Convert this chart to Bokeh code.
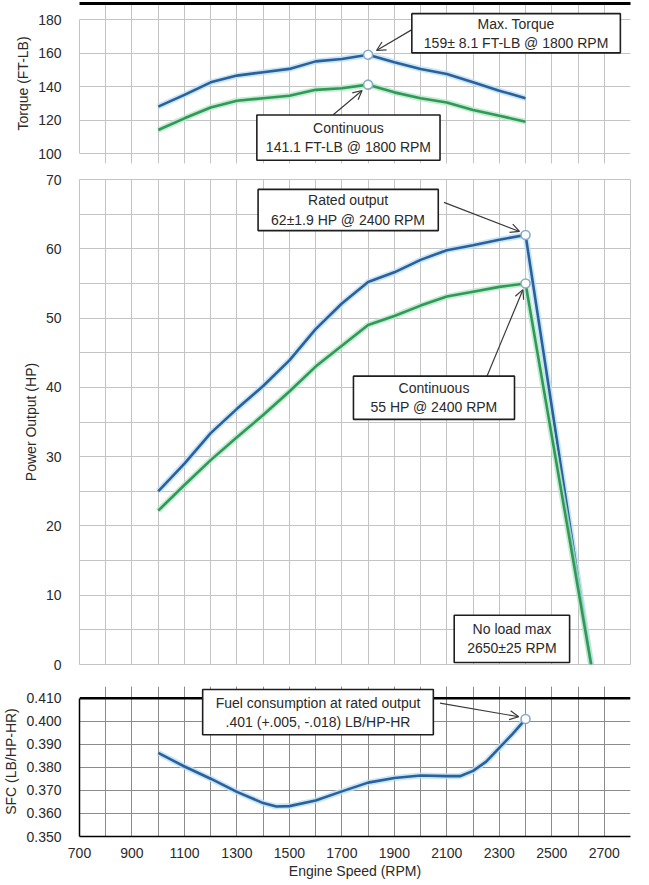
from bokeh.plotting import figure
from bokeh.layouts import column
from bokeh.models import (Range1d, FixedTicker, Label, Arrow, OpenHead, Span,
                          PrintfTickFormatter, LinearAxis)
from bokeh.embed import file_html
from bokeh.resources import INLINE

# ---------------- data ----------------
rpm = [1000, 1100, 1200, 1300, 1400, 1500, 1600, 1700, 1800, 1900, 2000, 2100, 2200, 2300, 2400]
torque_max = [128, 135, 142.5, 146.5, 148.5, 150.5, 155, 156.4, 159, 154.5, 150.5, 147.5, 142.5, 137.5, 133]
torque_cont = [114, 121, 127.5, 131.5, 133, 134.5, 138, 139, 141.1, 136.5, 133, 130.5, 126, 122.5, 119]

power_rpm = [1000, 1100, 1200, 1300, 1400, 1500, 1600, 1700, 1800, 1900, 2000, 2100, 2200, 2300, 2400, 2650]
power_max = [25.0, 29.0, 33.4, 36.9, 40.2, 43.9, 48.4, 52.1, 55.2, 56.6, 58.4, 59.8, 60.5, 61.3, 62.0, 0]
power_cont = [22.2, 25.9, 29.5, 32.8, 36.0, 39.4, 43.0, 46.0, 49.0, 50.3, 51.8, 53.1, 53.8, 54.5, 55.0, 0]

sfc_rpm = [1000, 1100, 1200, 1300, 1400, 1450, 1500, 1600, 1700, 1800, 1900, 2000, 2100, 2150, 2200, 2250, 2300, 2350, 2400]
sfc = [0.3863, 0.3804, 0.3751, 0.3694, 0.3645, 0.3630, 0.3632, 0.3656, 0.3696, 0.3734, 0.3754,
       0.3765, 0.3762, 0.3762, 0.3785, 0.3825, 0.3885, 0.3945, 0.401]

x_major = [700, 900, 1100, 1300, 1500, 1700, 1900, 2100, 2300, 2500, 2700]
x_minor = [700, 800, 900, 1000, 1100, 1200, 1300, 1400, 1500, 1600, 1700, 1800, 1900, 2000,
           2100, 2200, 2300, 2400, 2500, 2600, 2700, 2800]
torque_ticks = [100, 120, 140, 160, 180]
power_ticks = [0, 10, 20, 30, 40, 50, 60, 70]
power_minor = [0, 5, 10, 15, 20, 25, 30, 35, 40, 45, 50, 55, 60, 65, 70]
sfc_ticks = [0.35, 0.36, 0.37, 0.38, 0.39, 0.40, 0.41]

# ---------------- style ----------------
FONT = "Liberation Sans"
BLUE = "#2b5f9e"
BLUE_HALO = "#b9e0f4"
GREEN = "#2f9a58"
GREEN_HALO = "#b7e6c8"
GRID = "#c4c4c4"
GRID_DARK = "#8c8c8c"
TXT = "#2a2a2a"
ARROW = "#3a3a3a"

W = 633
xr = Range1d(700, 2800)


def make_fig(height, y_range, top, bottom, grid_color, band):
    p = figure(width=W, height=height, x_range=xr, y_range=y_range,
               output_backend="svg", toolbar_location=None,
               min_border_left=72, min_border_right=3,
               min_border_top=top, min_border_bottom=bottom)
    xt = FixedTicker(ticks=x_major, minor_ticks=x_minor)
    p.xaxis.ticker = xt
    p.xgrid.ticker = xt
    p.xgrid.grid_line_color = grid_color
    p.xgrid.minor_grid_line_color = grid_color
    p.xgrid.bounds = band
    p.ygrid.grid_line_color = grid_color
    p.outline_line_color = None
    p.background_fill_color = "white"
    for ax in [p.xaxis[0], p.yaxis[0]]:
        ax.major_tick_line_color = None
        ax.minor_tick_line_color = None
        ax.major_label_text_font = FONT
        ax.major_label_text_font_size = "14px"
        ax.major_label_text_color = TXT
        ax.axis_label_text_font = FONT
        ax.axis_label_text_font_size = "14px"
        ax.axis_label_text_font_style = "normal"
        ax.axis_label_text_color = TXT
        ax.axis_line_color = grid_color
    p.yaxis.bounds = band
    p.yaxis.major_label_standoff = 12
    p.yaxis.axis_label_standoff = 4
    return p


def box(p, x, y, text, pad_v=5, pad_h=13):
    p.add_layout(Label(x=x, y=y, text=text, text_align="center", text_baseline="middle",
                       text_font=FONT, text_font_size="14px", text_color=TXT,
                       text_line_height=1.2,
                       background_fill_color="white", border_line_color="#1e1e1e",
                       border_line_width=1.6,
                       padding=dict(left=pad_h, right=pad_h, top=pad_v, bottom=pad_v)))


def arrow(p, xs, ys, xe, ye):
    p.add_layout(Arrow(x_start=xs, y_start=ys, x_end=xe, y_end=ye,
                       line_color=ARROW, line_width=1.2,
                       end=OpenHead(size=9, line_color=ARROW, line_width=1.2)))


def curve(p, x, y, color, halo):
    p.line(x, y, line_color=halo, line_width=6, line_alpha=0.8)
    p.line(x, y, line_color=color, line_width=2.6)


def marker(p, x, y):
    p.scatter([x], [y], marker="circle", size=9, fill_color="white",
              line_color="#86acc9", line_width=1.6)


# ---------------- torque ----------------
# frame runs 16 px above 180 and 10 px below 100 so the boxes are not clipped
t_px = 80 / 134.0
p1 = make_fig(170, Range1d(100 - 10 * t_px, 180 + 16 * t_px), 3, 7, GRID, (100, 180))
p1.xaxis.visible = False
# thick header rule drawn as an unlabeled axis above the panel
rule_ax = LinearAxis(ticker=FixedTicker(ticks=[]), axis_line_color="black", axis_line_width=3,
                     major_tick_line_color=None, minor_tick_line_color=None,
                     major_label_standoff=0, bounds=(470, 2811))
p1.add_layout(rule_ax, "above")
p1.yaxis.ticker = FixedTicker(ticks=torque_ticks)
p1.yaxis.axis_label = "Torque (FT-LB)"
curve(p1, rpm, torque_max, BLUE, BLUE_HALO)
curve(p1, rpm, torque_cont, GREEN, GREEN_HALO)
i_t = torque_max.index(max(torque_max))
marker(p1, rpm[i_t], torque_max[i_t])
marker(p1, rpm[i_t], torque_cont[i_t])
arrow(p1, 1972, 174.4, 1832, 161.5)
arrow(p1, 1667, 123.1, 1777, 137.6)
box(p1, 2364, 171.8, "Max. Torque\n159\u00b1 8.1 FT-LB @ 1800 RPM", pad_v=2, pad_h=12)
box(p1, 1725, 109.5, "Continuous\n141.1 FT-LB @ 1800 RPM", pad_v=5, pad_h=9)

# ---------------- power ----------------
p2 = make_fig(510, Range1d(0, 70), 9, 16, GRID, (0, 70))
p2.outline_line_color = GRID
p2.xaxis.visible = False
p2.yaxis.ticker = FixedTicker(ticks=power_ticks, minor_ticks=power_minor)
p2.ygrid.minor_grid_line_color = GRID
p2.yaxis.axis_label = "Power Output (HP)"
curve(p2, power_rpm, power_max, BLUE, BLUE_HALO)
curve(p2, power_rpm, power_cont, GREEN, GREEN_HALO)
i_p = power_rpm.index(2400)
marker(p2, power_rpm[i_p], power_max[i_p])
marker(p2, power_rpm[i_p], power_cont[i_p])
arrow(p2, 2089, 66.7, 2377, 62.5)
arrow(p2, 2253, 41.6, 2390, 54.1)
box(p2, 1724, 65.6, "Rated output\n62\u00b11.9 HP @ 2400 RPM", pad_v=3, pad_h=13)
box(p2, 2051, 38.5, "Continuous\n55 HP @ 2400 RPM", pad_v=4, pad_h=17)
box(p2, 2348, 3.7, "No load max\n2650\u00b125 RPM", pad_v=6, pad_h=13)

# ---------------- SFC ----------------
s_px = 0.06 / 140.0
p3 = make_fig(201, Range1d(0.35, 0.41 + 12 * s_px), 6, 43, GRID_DARK, (0.35, 0.41))
p3.yaxis.ticker = FixedTicker(ticks=sfc_ticks)
p3.yaxis.formatter = PrintfTickFormatter(format="%.3f")
p3.yaxis.axis_label = "SFC (LB/HP-HR)"
p3.yaxis.axis_line_color = "black"
p3.yaxis.axis_line_width = 1.5
p3.xaxis.axis_line_color = "black"
p3.xaxis.axis_line_width = 1.5
p3.xaxis.axis_label = "Engine Speed (RPM)"
p3.xaxis.major_label_standoff = 5
p3.xaxis.axis_label_standoff = 2
p3.add_layout(Span(location=0.41, dimension="width", line_color="black", line_width=2.5))
curve(p3, sfc_rpm, sfc, BLUE, BLUE_HALO)
marker(p3, sfc_rpm[-1], sfc[-1])
arrow(p3, 2074, 0.4079, 2374, 0.4020)
box(p3, 1609, 0.4040, "Fuel consumption at rated output\n.401 (+.005, -.018) LB/HP-HR", pad_v=5, pad_h=13)

layout = column(p1, p2, p3, spacing=0)
open("out.html", "w").write(file_html(layout, INLINE))
